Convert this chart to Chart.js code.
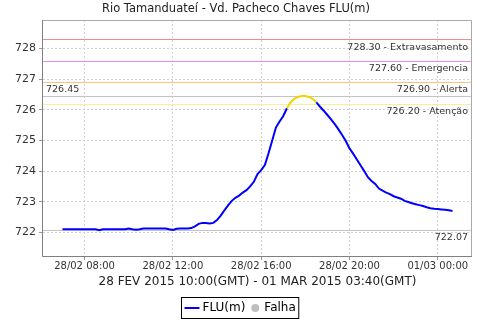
<!DOCTYPE html>
<html>
<head>
<meta charset="utf-8">
<script src="https://cdn.jsdelivr.net/npm/chart.js@4.4.0/dist/chart.umd.min.js"></script>
<style>
  html, body { margin: 0; padding: 0; background: #fff; }
  #wrap { width: 480px; height: 320px; }
</style>
</head>
<body>
<div id="wrap"><canvas id="chart" width="480" height="320"></canvas></div>
<script>
// leituras a cada 10 min, a partir de 28/02 07:00 (hora local)
const startHour = 7;
const stepMinutes = 10;
const flu = [
  722.10, 722.10, 722.10, 722.10, 722.10, 722.10, 722.10, 722.10, 722.10, 722.10,
  722.07, 722.10, 722.10, 722.10, 722.10, 722.10, 722.10, 722.10, 722.13, 722.10,
  722.09, 722.10, 722.13, 722.13, 722.13, 722.13, 722.13, 722.13, 722.13, 722.10,
  722.08, 722.12, 722.13, 722.13, 722.13, 722.14, 722.20, 722.28, 722.31, 722.31,
  722.29, 722.31, 722.40, 722.55, 722.72, 722.88, 723.03, 723.13, 723.20, 723.30,
  723.38, 723.50, 723.65, 723.90, 724.03, 724.20, 724.58, 725.00, 725.42, 725.62,
  725.80, 726.05, 726.25, 726.36, 726.42, 726.45, 726.45, 726.42, 726.36, 726.24,
  726.10, 725.97, 725.83, 725.69, 725.53, 725.36, 725.18, 724.98, 724.74, 724.57,
  724.38, 724.19, 724.00, 723.80, 723.68, 723.58, 723.43, 723.36, 723.30, 723.25,
  723.18, 723.14, 723.10, 723.03, 722.99, 722.95, 722.92, 722.89, 722.86, 722.82,
  722.79, 722.77, 722.76, 722.75, 722.74, 722.72, 722.70
];
const times = flu.map((v, i) => startHour + i * stepMinutes / 60);

const xTickValues = [8, 12, 16, 20, 24];
const xTickLabels = ['28/02 08:00', '28/02 12:00', '28/02 16:00', '28/02 20:00', '01/03 00:00'];
const yTickValues = [722, 723, 724, 725, 726, 727, 728];

const limitValues = [728.30, 727.60, 726.90, 726.20];
const limitNames = ['Extravasamento', 'Emergencia', 'Alerta', 'Atenção'];
const limitColors = ['#f08c8c', '#ee88ee', '#ffc27e', '#f6ef9c'];

const FONT = '"DejaVu Sans", sans-serif';

// margem de 5% no eixo do tempo
const span = times[times.length - 1] - times[0];
const xMin = times[0] - span * 0.05;
const xMax = times[times.length - 1] + span * 0.05;
const yMin = 721.23;
const yMax = 728.93;

const fluMax = Math.max(...flu);
const fluMin = Math.min(...flu);

const limitsPlugin = {
    id: 'limits',
    beforeDatasetsDraw(chart) {
        const { ctx, chartArea } = chart;
        const y = chart.scales.y;
        ctx.save();
        ctx.lineWidth = 1;
        limitValues.forEach((v, i) => {
            const py = Math.round(y.getPixelForValue(v)) + 0.5;
            ctx.strokeStyle = limitColors[i];
            ctx.beginPath();
            ctx.moveTo(chartArea.left, py);
            ctx.lineTo(chartArea.right, py);
            ctx.stroke();
        });
        [fluMax, fluMin].forEach(v => {
            const py = Math.round(y.getPixelForValue(v)) + 0.5;
            ctx.strokeStyle = '#c4c4c4';
            ctx.beginPath();
            ctx.moveTo(chartArea.left, py);
            ctx.lineTo(chartArea.right, py);
            ctx.stroke();
        });
        ctx.restore();
    },
    afterDatasetsDraw(chart) {
        const { ctx, chartArea } = chart;
        const y = chart.scales.y;
        ctx.save();
        ctx.font = '9.5px ' + FONT;
        ctx.fillStyle = '#333';
        ctx.textAlign = 'right';
        ctx.textBaseline = 'top';
        limitValues.forEach((v, i) => {
            const py = y.getPixelForValue(v);
            ctx.fillText(v.toFixed(2) + ' - ' + limitNames[i], chartArea.right - 4, py + 3);
        });
        ctx.fillText(fluMin.toFixed(2), chartArea.right - 4, y.getPixelForValue(fluMin) + 3);
        ctx.textAlign = 'left';
        ctx.textBaseline = 'bottom';
        ctx.fillText(fluMax.toFixed(2), chartArea.left + 3, y.getPixelForValue(fluMax) - 2);

        // contorno do gráfico
        ctx.strokeStyle = '#aaa';
        ctx.lineWidth = 1;
        ctx.beginPath();
        ctx.moveTo(chartArea.left, chartArea.top + 0.5);
        ctx.lineTo(chartArea.right - 0.5, chartArea.top + 0.5);
        ctx.lineTo(chartArea.right - 0.5, chartArea.bottom);
        ctx.stroke();
        ctx.strokeStyle = '#808080';
        ctx.beginPath();
        ctx.moveTo(chartArea.left - 0.5, chartArea.top);
        ctx.lineTo(chartArea.left - 0.5, chartArea.bottom + 0.5);
        ctx.lineTo(chartArea.right, chartArea.bottom + 0.5);
        ctx.stroke();
        ctx.restore();
    },
    afterDraw(chart) {
        // legenda com moldura
        const ctx = chart.ctx;
        ctx.save();
        ctx.font = '12px ' + FONT;
        const w1 = ctx.measureText('FLU(m)').width;
        const w2 = ctx.measureText('Falha').width;
        const boxW = 3 + 15 + 3 + w1 + 6 + 8 + 5 + w2 + 3;
        const boxH = 21;
        const bx = Math.round(chart.width / 2 - boxW / 2) + 0.5;
        const by = chart.height - 23 + 0.5;
        const cy = by + boxH / 2;
        ctx.strokeStyle = '#000';
        ctx.lineWidth = 1;
        ctx.strokeRect(bx, by, boxW, boxH);
        ctx.strokeStyle = '#0000ff';
        ctx.lineWidth = 2;
        ctx.beginPath();
        ctx.moveTo(bx + 3, cy);
        ctx.lineTo(bx + 18, cy);
        ctx.stroke();
        ctx.fillStyle = '#000';
        ctx.textBaseline = 'middle';
        ctx.fillText('FLU(m)', bx + 21, cy);
        ctx.fillStyle = '#c0c0c0';
        ctx.beginPath();
        ctx.arc(bx + 21 + w1 + 10, cy, 4, 0, Math.PI * 2);
        ctx.fill();
        ctx.fillStyle = '#000';
        ctx.fillText('Falha', bx + 21 + w1 + 19, cy);
        ctx.restore();
    }
};

new Chart(document.getElementById('chart'), {
    type: 'line',
    data: {
        datasets: [{
            label: 'FLU(m)',
            data: times.map((t, i) => ({ x: t, y: flu[i] })),
            borderColor: '#0000ff',
            borderWidth: 2,
            pointRadius: 0,
            tension: 0,
            segment: {
                borderColor: c => c.p1.parsed.y >= limitValues[3] ? '#f2d500' : undefined
            }
        }]
    },
    options: {
        responsive: false,
        animation: false,
        layout: { padding: { left: 0, right: 8, top: 0, bottom: 28 } },
        plugins: {
            legend: { display: false },
            tooltip: { enabled: false },
            title: {
                display: true,
                text: 'Rio Tamanduateí - Vd. Pacheco Chaves FLU(m)',
                color: '#222',
                font: { family: FONT, size: 11.5, weight: 'normal' },
                padding: { top: 2.5, bottom: 3.7 }
            }
        },
        scales: {
            x: {
                type: 'linear',
                min: xMin,
                max: xMax,
                afterBuildTicks: s => { s.ticks = xTickValues.map(v => ({ value: v })); },
                afterFit: s => { s.height = 36; },
                ticks: {
                    autoSkip: false,
                    maxRotation: 0,
                    padding: 0,
                    color: '#333',
                    font: { family: FONT, size: 10 },
                    callback: v => xTickLabels[xTickValues.indexOf(v)]
                },
                grid: {
                    color: '#d0d0d0',
                    tickColor: '#999',
                    tickLength: 4,
                    tickBorderDash: []
                },
                border: { display: false, dash: [2, 2] },
                title: {
                    display: true,
                    text: '28 FEV 2015 10:00(GMT) - 01 MAR 2015 03:40(GMT)',
                    color: '#222',
                    font: { family: FONT, size: 12 },
                    padding: { top: 3, bottom: 3 }
                }
            },
            y: {
                min: yMin,
                max: yMax,
                afterBuildTicks: s => { s.ticks = yTickValues.map(v => ({ value: v })); },
                afterFit: s => { s.width = 43; },
                ticks: {
                    padding: 3,
                    color: '#333',
                    font: { family: FONT, size: 11 },
                    callback: v => String(v)
                },
                grid: {
                    color: '#d0d0d0',
                    tickColor: '#999',
                    tickLength: 4,
                    tickBorderDash: []
                },
                border: { display: false, dash: [2, 2] }
            }
        }
    },
    plugins: [limitsPlugin]
});
</script>
</body>
</html>
